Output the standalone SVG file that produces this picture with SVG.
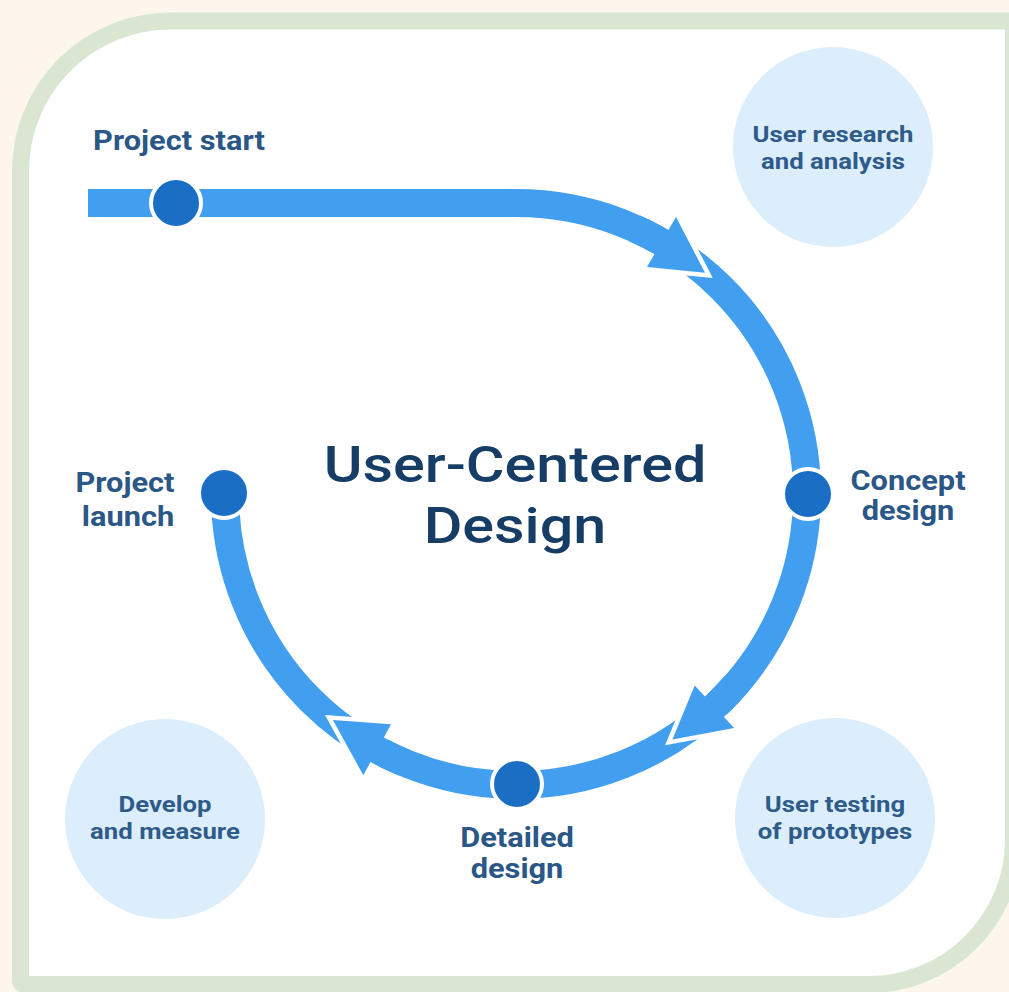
<svg xmlns="http://www.w3.org/2000/svg" width="1009" height="992" viewBox="0 0 1009 992">
<style>
.band{fill:none;stroke:#429ff0;stroke-width:28;stroke-linecap:butt}
.head{fill:#429ff0;stroke:#ffffff;stroke-width:9;stroke-linejoin:miter;paint-order:stroke}
.node{fill:#1a6fc4;stroke:#ffffff;stroke-width:4}
.bubble{fill:#dcedfc}
.lbl{font-family:Roboto,"Liberation Sans",sans-serif;font-weight:700;font-size:27px;fill:#2b5787;text-anchor:middle}
.btxt{font-family:Roboto,"Liberation Sans",sans-serif;font-weight:700;font-size:23px;fill:#2e5b8a;text-anchor:middle}
.title{font-family:Roboto,"Liberation Sans",sans-serif;font-weight:500;font-size:49px;fill:#163d66;text-anchor:middle}
</style>
<rect x="0" y="0" width="1009" height="992" fill="#fcf6ec"/>
<path d="M 20.5 171 A 150 150 0 0 1 170.5 21 H 1013.5 V 840 A 145 145 0 0 1 868.5 984.5 H 24.5 A 4 4 0 0 1 20.5 980.5 Z" fill="#ffffff" stroke="#d8e6d2" stroke-width="17"/>

<g id="bubble-research"><circle class="bubble" cx="833" cy="147" r="100"/><text class="btxt" transform="translate(833 142) scale(1.12 1)">User research</text><text class="btxt" transform="translate(833 169) scale(1.12 1)">and analysis</text></g>
<g id="bubble-develop"><circle class="bubble" cx="165" cy="819" r="100"/><text class="btxt" transform="translate(165 812) scale(1.12 1)">Develop</text><text class="btxt" transform="translate(165 839) scale(1.12 1)">and measure</text></g>
<g id="bubble-testing"><circle class="bubble" cx="835" cy="818" r="100"/><text class="btxt" transform="translate(835 812) scale(1.12 1)">User testing</text><text class="btxt" transform="translate(835 839) scale(1.12 1)">of prototypes</text></g>

<g id="connectors">
<path class="band" d="M 88 203 H 516 A 291 291 0 1 1 225 494"/>
<polygon class="head" points="705,272.7 676,216.9 647,267.1"/>
<polygon class="head" points="672.4,739.4 734.2,728 694.7,685.6"/>
<polygon class="head" points="332.9,720.1 363.3,775.2 391,724.3"/>
<path class="band" d="M 634.4 228.2 A 291 291 0 0 1 674.5 249.9"/>
<path class="band" d="M 735.6 684.9 A 291 291 0 0 1 703.1 716.9"/>
<path class="band" d="M 404.6 762.9 A 291 291 0 0 1 364 742.1"/>
</g>

<g id="node-start"><circle class="node" cx="176" cy="203" r="25"/><text class="lbl" transform="translate(179 150) scale(1.14 1)">Project start</text></g>
<g id="node-concept"><circle class="node" cx="808" cy="494" r="25"/><text class="lbl" transform="translate(908 490) scale(1.14 1)">Concept</text><text class="lbl" transform="translate(908 520) scale(1.14 1)">design</text></g>
<g id="node-detailed"><circle class="node" cx="517" cy="784" r="25"/><text class="lbl" transform="translate(517 847) scale(1.14 1)">Detailed</text><text class="lbl" transform="translate(517 878) scale(1.14 1)">design</text></g>
<g id="node-launch"><circle class="node" cx="224" cy="493" r="25"/><text class="lbl" transform="translate(125 492) scale(1.14 1)">Project</text><text class="lbl" transform="translate(128 526) scale(1.14 1)">launch</text></g>

<g id="title"><text class="title" transform="translate(515 482) scale(1.21 1)">User-Centered</text><text class="title" transform="translate(515 543) scale(1.21 1)">Design</text></g>
</svg>
